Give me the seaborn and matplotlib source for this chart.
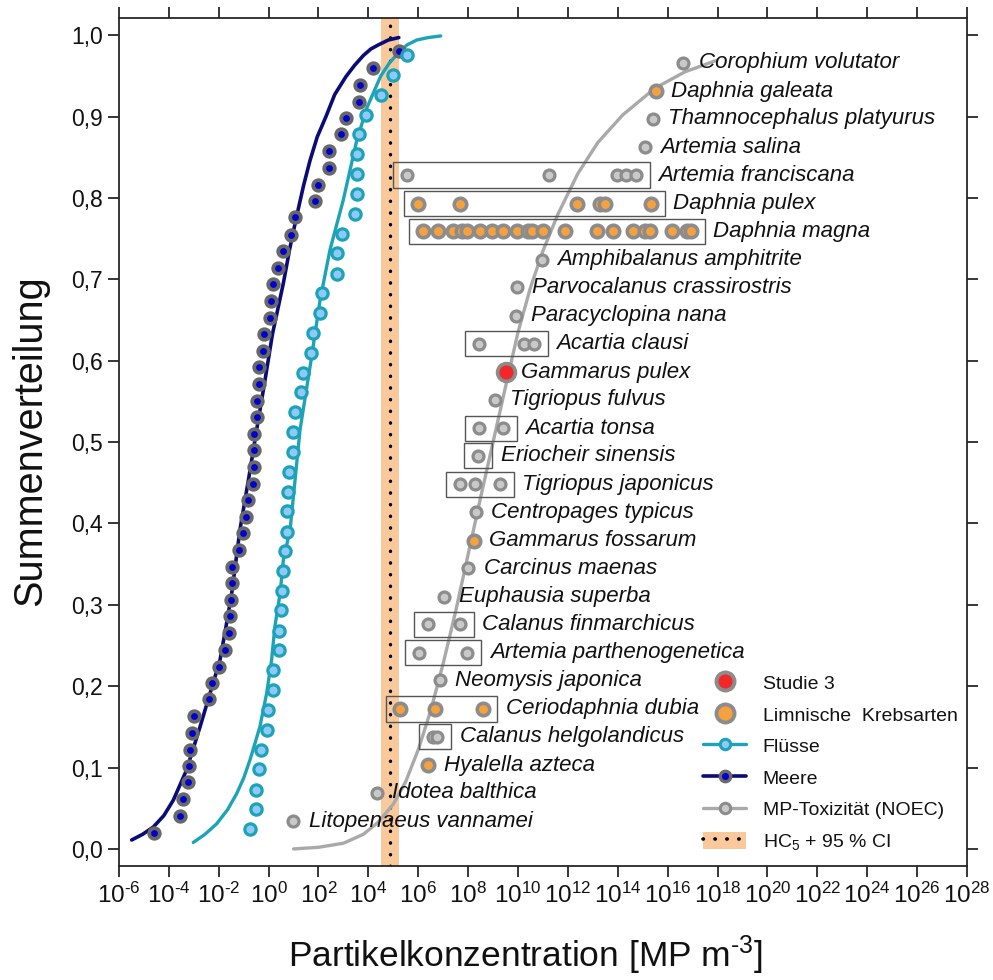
import numpy as np
import pandas as pd
import matplotlib
matplotlib.use("Agg")
import matplotlib.pyplot as plt
import seaborn as sns
from matplotlib.lines import Line2D
from matplotlib.patches import Patch, Rectangle
from matplotlib.legend_handler import HandlerTuple
from matplotlib.ticker import NullLocator

# ---------------- data (log10 of particle concentration, cumulative fraction) -------------
meere_logx = [-4.60, -3.55, -3.45, -3.22, -3.18, -3.15, -3.07, -2.99, -2.38, -2.25,
              -1.99, -1.75, -1.58, -1.53, -1.50, -1.48, -1.45, -1.18, -1.02, -0.92,
              -0.82, -0.64, -0.59, -0.59, -0.59, -0.48, -0.48, -0.39, -0.39, -0.22,
              -0.17, 0.05, 0.08, 0.19, 0.39, 0.56, 0.88, 1.07, 1.86, 1.99,
              2.41, 2.41, 2.89, 3.10, 3.64, 3.66, 4.20, 5.23]
meere_y = [0.020, 0.041, 0.061, 0.082, 0.102, 0.122, 0.143, 0.163, 0.184, 0.204,
           0.224, 0.245, 0.265, 0.286, 0.306, 0.327, 0.347, 0.367, 0.388, 0.408,
           0.429, 0.449, 0.469, 0.490, 0.510, 0.531, 0.551, 0.571, 0.592, 0.612,
           0.633, 0.653, 0.673, 0.694, 0.714, 0.735, 0.755, 0.776, 0.796, 0.816,
           0.837, 0.857, 0.878, 0.898, 0.918, 0.939, 0.959, 0.980]

fluesse_logx = [-0.75, -0.50, -0.51, -0.40, -0.30, -0.08, -0.01, 0.16, 0.17, 0.40,
                0.43, 0.50, 0.52, 0.56, 0.66, 0.72, 0.75, 0.79, 0.83, 0.96,
                0.99, 1.06, 1.28, 1.36, 1.68, 1.79, 2.08, 2.16, 2.73, 2.75,
                2.93, 3.46, 3.53, 3.53, 3.56, 3.64, 3.90, 4.50, 4.97, 5.56]
fluesse_y = [0.024, 0.049, 0.073, 0.098, 0.122, 0.146, 0.171, 0.195, 0.220, 0.244,
             0.268, 0.293, 0.317, 0.341, 0.366, 0.390, 0.415, 0.439, 0.463, 0.488,
             0.512, 0.537, 0.561, 0.585, 0.610, 0.634, 0.659, 0.683, 0.707, 0.732,
             0.756, 0.780, 0.805, 0.829, 0.854, 0.878, 0.902, 0.927, 0.951, 0.976]

# fitted distribution curves
meere_fit_logx = [-5.49, -5.05, -4.62, -4.20, -3.82, -3.29, -2.75, -2.35, -1.95, -1.72,
                  -1.48, -1.15, -0.80, -0.48, -0.15, 0.15, 0.59, 0.85, 1.12, 1.40,
                  1.66, 1.95, 2.30, 2.65, 3.10, 3.45, 3.80, 4.10, 4.40, 4.80, 5.22]
meere_fit_y = [0.011, 0.018, 0.027, 0.041, 0.060, 0.097, 0.150, 0.191, 0.232, 0.271,
               0.314, 0.392, 0.455, 0.515, 0.575, 0.632, 0.695, 0.738, 0.777, 0.815,
               0.846, 0.875, 0.900, 0.927, 0.949, 0.963, 0.975, 0.983, 0.988, 0.994, 0.997]

fluesse_fit_logx = [-3.02, -2.55, -2.08, -1.65, -1.28, -1.00, -0.75, -0.35, -0.08, 0.12,
                    0.25, 0.46, 0.59, 0.86, 1.26, 1.70, 2.06, 2.46, 2.99, 3.53, 3.93,
                    4.50, 4.85, 5.20, 5.55, 5.94, 6.40, 6.90]
fluesse_fit_y = [0.008, 0.018, 0.031, 0.048, 0.068, 0.087, 0.109, 0.150, 0.191, 0.232,
                 0.273, 0.314, 0.355, 0.392, 0.515, 0.600, 0.674, 0.736, 0.797, 0.870,
                 0.910, 0.950, 0.966, 0.978, 0.988, 0.994, 0.997, 0.999]

noec_fit_logx = [1.00, 2.00, 3.00, 3.80, 4.40, 5.00, 5.50, 6.00, 6.50, 7.00, 7.50,
                 8.00, 8.50, 9.00, 9.50, 10.00, 10.50, 11.00, 11.60, 12.40, 13.20,
                 14.20, 15.50, 16.70, 17.96]
noec_fit_y = [0.000, 0.002, 0.007, 0.018, 0.033, 0.055, 0.083, 0.122, 0.170, 0.228, 0.292,
              0.362, 0.432, 0.500, 0.568, 0.635, 0.690, 0.735, 0.780, 0.830, 0.868,
              0.902, 0.935, 0.955, 0.969]

species = ["Corophium volutator", "Daphnia galeata", "Thamnocephalus platyurus",
           "Artemia salina", "Artemia franciscana", "Daphnia pulex", "Daphnia magna",
           "Amphibalanus amphitrite", "Parvocalanus crassirostris", "Paracyclopina nana",
           "Acartia clausi", "Gammarus pulex", "Tigriopus fulvus", "Acartia tonsa",
           "Eriocheir sinensis", "Tigriopus japonicus", "Centropages typicus",
           "Gammarus fossarum", "Carcinus maenas", "Euphausia superba",
           "Calanus finmarchicus", "Artemia parthenogenetica", "Neomysis japonica",
           "Ceriodaphnia dubia", "Calanus helgolandicus", "Hyalella azteca",
           "Idotea balthica", "Litopenaeus vannamei"]
species_y = [0.966, 0.931, 0.897, 0.862, 0.828, 0.793, 0.759, 0.724, 0.690, 0.655,
             0.621, 0.586, 0.552, 0.517, 0.483, 0.448, 0.414, 0.379, 0.345, 0.310,
             0.276, 0.241, 0.207, 0.172, 0.138, 0.103, 0.069, 0.034]
species_group = ["marin", "limnisch", "marin", "marin", "marin", "limnisch", "limnisch",
                 "marin", "marin", "marin", "marin", "studie", "marin", "marin",
                 "marin", "marin", "marin", "limnisch", "marin", "marin",
                 "marin", "marin", "marin", "limnisch", "marin", "limnisch",
                 "marin", "marin"]
species_logx = [
    [16.63], [15.53], [15.40], [15.09],
    [5.53, 11.24, 13.97, 14.33, 14.73],
    [6.00, 7.67, 12.35, 13.30, 13.50, 15.33],
    [6.20, 6.80, 7.40, 7.74, 7.94, 8.47, 8.97, 9.41, 9.95, 10.41, 10.55, 11.01,
     11.88, 13.15, 13.82, 14.62, 15.09, 15.29, 16.16, 16.76, 16.92],
    [10.95], [9.95], [9.92],
    [8.45, 10.24, 10.64],
    [9.52], [9.08],
    [8.45, 9.38],
    [8.41],
    [7.67, 8.27, 9.28],
    [8.31], [8.23], [8.01], [7.03],
    [6.40, 7.67],
    [6.03, 7.97],
    [6.87],
    [5.27, 6.67, 8.61],
    [6.60, 6.76],
    [6.40], [4.33], [0.99]]
species_boxed = [0, 0, 0, 0, 1, 1, 1, 0, 0, 0, 1, 0, 0, 1, 1, 1, 0, 0, 0, 0,
                 1, 1, 0, 1, 1, 0, 0, 0]

hc5_logx = 4.88
hc5_ci_logx = [4.52, 5.23]

xtick_exp = list(range(-6, 29, 2))
ytick_vals = [0.0, 0.1, 0.2, 0.3, 0.4, 0.5, 0.6, 0.7, 0.8, 0.9, 1.0]

legend_labels = ["Studie 3", "Limnische  Krebsarten", "Flüsse", "Meere",
                 "MP-Toxizität (NOEC)", "HC$_5$ + 95 % CI"]

# ---------------- styling -------------
sns.set_theme(style="ticks")
plt.rcParams['font.family'] = ['Liberation Sans', 'DejaVu Sans']
plt.rcParams['mathtext.fontset'] = 'custom'
plt.rcParams['mathtext.rm'] = 'Liberation Sans'
plt.rcParams['mathtext.it'] = 'Liberation Sans:italic'
plt.rcParams['mathtext.bf'] = 'Liberation Sans:bold'

C_NAVY = '#0b0b78'
C_BLUE = '#0000cc'
C_DGREY = '#686868'
C_TEAL = '#1ca3b8'
C_LBLUE = '#8fc9f7'
C_GREYLINE = '#a9a9a9'
C_GFILL = '#c9c9c9'
C_GEDGE = '#8c8c8c'
C_ORANGE = '#f7a13e'
C_RED = '#f02828'
C_BAND = '#f9c99b'
C_AX = '#262626'
C_TXT = '#111111'

HY = '\u2010'  # short hyphen used in the superscripts


def sup_label(k):
    s = str(k).replace('-', HY)
    return rf'$10^{{{s}}}$'


fig = plt.figure(figsize=(9.93, 9.80), dpi=100)
ax = fig.add_axes([0.1198, 0.1163, 0.854, 0.8653])
ax.set_xscale('log')

# HC5 band and dotted line
ax.axvspan(10 ** hc5_ci_logx[0], 10 ** hc5_ci_logx[1], color=C_BAND, lw=0, zorder=1)
ax.axvline(10 ** hc5_logx, color='black', lw=2.4, ls=(0, (0.1, 3.4)),
           dash_capstyle='round', zorder=2)

# fitted curves
sns.lineplot(x=10 ** np.array(noec_fit_logx), y=noec_fit_y, sort=False, estimator=None,
             color=C_GREYLINE, lw=2.4, ax=ax, zorder=3, legend=False)
sns.lineplot(x=10 ** np.array(fluesse_fit_logx), y=fluesse_fit_y, sort=False, estimator=None,
             color=C_TEAL, lw=2.4, ax=ax, zorder=3, legend=False)
sns.lineplot(x=10 ** np.array(meere_fit_logx), y=meere_fit_y, sort=False, estimator=None,
             color=C_NAVY, lw=2.6, ax=ax, zorder=3, legend=False)

# Meere / Flüsse points
sns.scatterplot(x=10 ** np.array(meere_logx), y=meere_y, s=58, color=C_BLUE,
                edgecolor=C_DGREY, linewidth=2.7, ax=ax, zorder=6, legend=False)
sns.scatterplot(x=10 ** np.array(fluesse_logx), y=fluesse_y, s=66, color=C_LBLUE,
                edgecolor=C_TEAL, linewidth=2.3, ax=ax, zorder=6, legend=False)

# NOEC points per species
rows = []
for name, yv, grp, xs in zip(species, species_y, species_group, species_logx):
    for xv in xs:
        rows.append({"species": name, "x": 10 ** xv, "y": yv, "group": grp})
df = pd.DataFrame(rows)
style = {"marin": (C_GFILL, 62, 2.3), "limnisch": (C_ORANGE, 80, 2.6), "studie": (C_RED, 165, 2.6)}
for grp, (fc, s, lw) in style.items():
    sub = df[df.group == grp]
    sns.scatterplot(data=sub, x="x", y="y", s=s, color=fc, edgecolor=C_GEDGE,
                    linewidth=lw, ax=ax, zorder=6, legend=False)

# boxes and labels
pad = 0.56
for name, yv, xs, boxed in zip(species, species_y, species_logx, species_boxed):
    if boxed:
        x0 = 10 ** (min(xs) - pad)
        x1 = 10 ** (max(xs) + pad)
        ax.add_patch(Rectangle((x0, yv - 0.0155), x1 - x0, 0.031, fill=False,
                               edgecolor='#555555', lw=1.0, zorder=5))
        anchor, off = x1, 6
    else:
        anchor, off = 10 ** max(xs), 11
    ax.annotate(name, xy=(anchor, yv), xytext=(off, 0), textcoords='offset points',
                va='center', ha='left', fontsize=16, style='italic', color=C_TXT,
                zorder=7)

# axes
ax.set_xlim(1e-6, 1e28)
ax.set_ylim(-0.021, 1.021)
ax.set_xticks([10.0 ** k for k in xtick_exp])
ax.set_xticklabels([sup_label(k) for k in xtick_exp])
ax.xaxis.set_minor_locator(NullLocator())
ax.set_yticks(ytick_vals)
ax.set_yticklabels([f"{v:.1f}".replace('.', ',') for v in ytick_vals])
ax.tick_params(axis='both', which='major', direction='out', length=8, width=1.3,
               color=C_AX, labelcolor=C_TXT, top=True, right=True,
               labeltop=False, labelright=False)
ax.tick_params(axis='x', labelsize=17.5, pad=4)
ax.tick_params(axis='y', labelsize=16.5, pad=3.5)
for sp in ax.spines.values():
    sp.set_linewidth(1.3)
    sp.set_color(C_AX)
ax.grid(False)
ax.set_xlabel('')
ax.set_ylabel('')

fig.text(30 / 993, 1 - 441 / 980, 'Summenverteilung', rotation=90, fontsize=28.5,
         ha='center', va='center', color=C_TXT)
fig.text(525 / 993, 1 - 955 / 980, f'Partikelkonzentration [MP m$^{{{HY}3}}$]', fontsize=25.5,
         ha='center', va='center', color=C_TXT)

# legend
h_studie = Line2D([], [], ls='none', marker='o', ms=13, mfc=C_RED, mec=C_GEDGE, mew=2.8)
h_limn = Line2D([], [], ls='none', marker='o', ms=13, mfc=C_ORANGE, mec=C_GEDGE, mew=2.8)
h_fl = Line2D([], [], color=C_TEAL, lw=2.4, marker='o', ms=7.5, mfc=C_LBLUE, mec=C_TEAL, mew=2.2)
h_me = Line2D([], [], color=C_NAVY, lw=2.6, marker='o', ms=7.5, mfc=C_BLUE, mec=C_DGREY, mew=2.4)
h_no = Line2D([], [], color=C_GREYLINE, lw=2.4, marker='o', ms=7.5, mfc=C_GFILL, mec=C_GEDGE, mew=2.2)
h_hc = (Patch(facecolor=C_BAND, edgecolor='none'),
        Line2D([], [], color='black', lw=2.6, ls=(0, (0.1, 3.2)), dash_capstyle='round'))
leg = ax.legend([h_studie, h_limn, h_fl, h_me, h_no, h_hc], legend_labels,
                loc='upper left', bbox_to_anchor=(0.689, 0.227), frameon=False,
                fontsize=14, handlelength=2.2, handleheight=1.0, handletextpad=0.85,
                labelspacing=0.63, borderpad=0, borderaxespad=0,
                handler_map={tuple: HandlerTuple(ndivide=1, pad=0)})
for t in leg.get_texts():
    t.set_color(C_TXT)

fig.savefig('out.png', dpi=100)
